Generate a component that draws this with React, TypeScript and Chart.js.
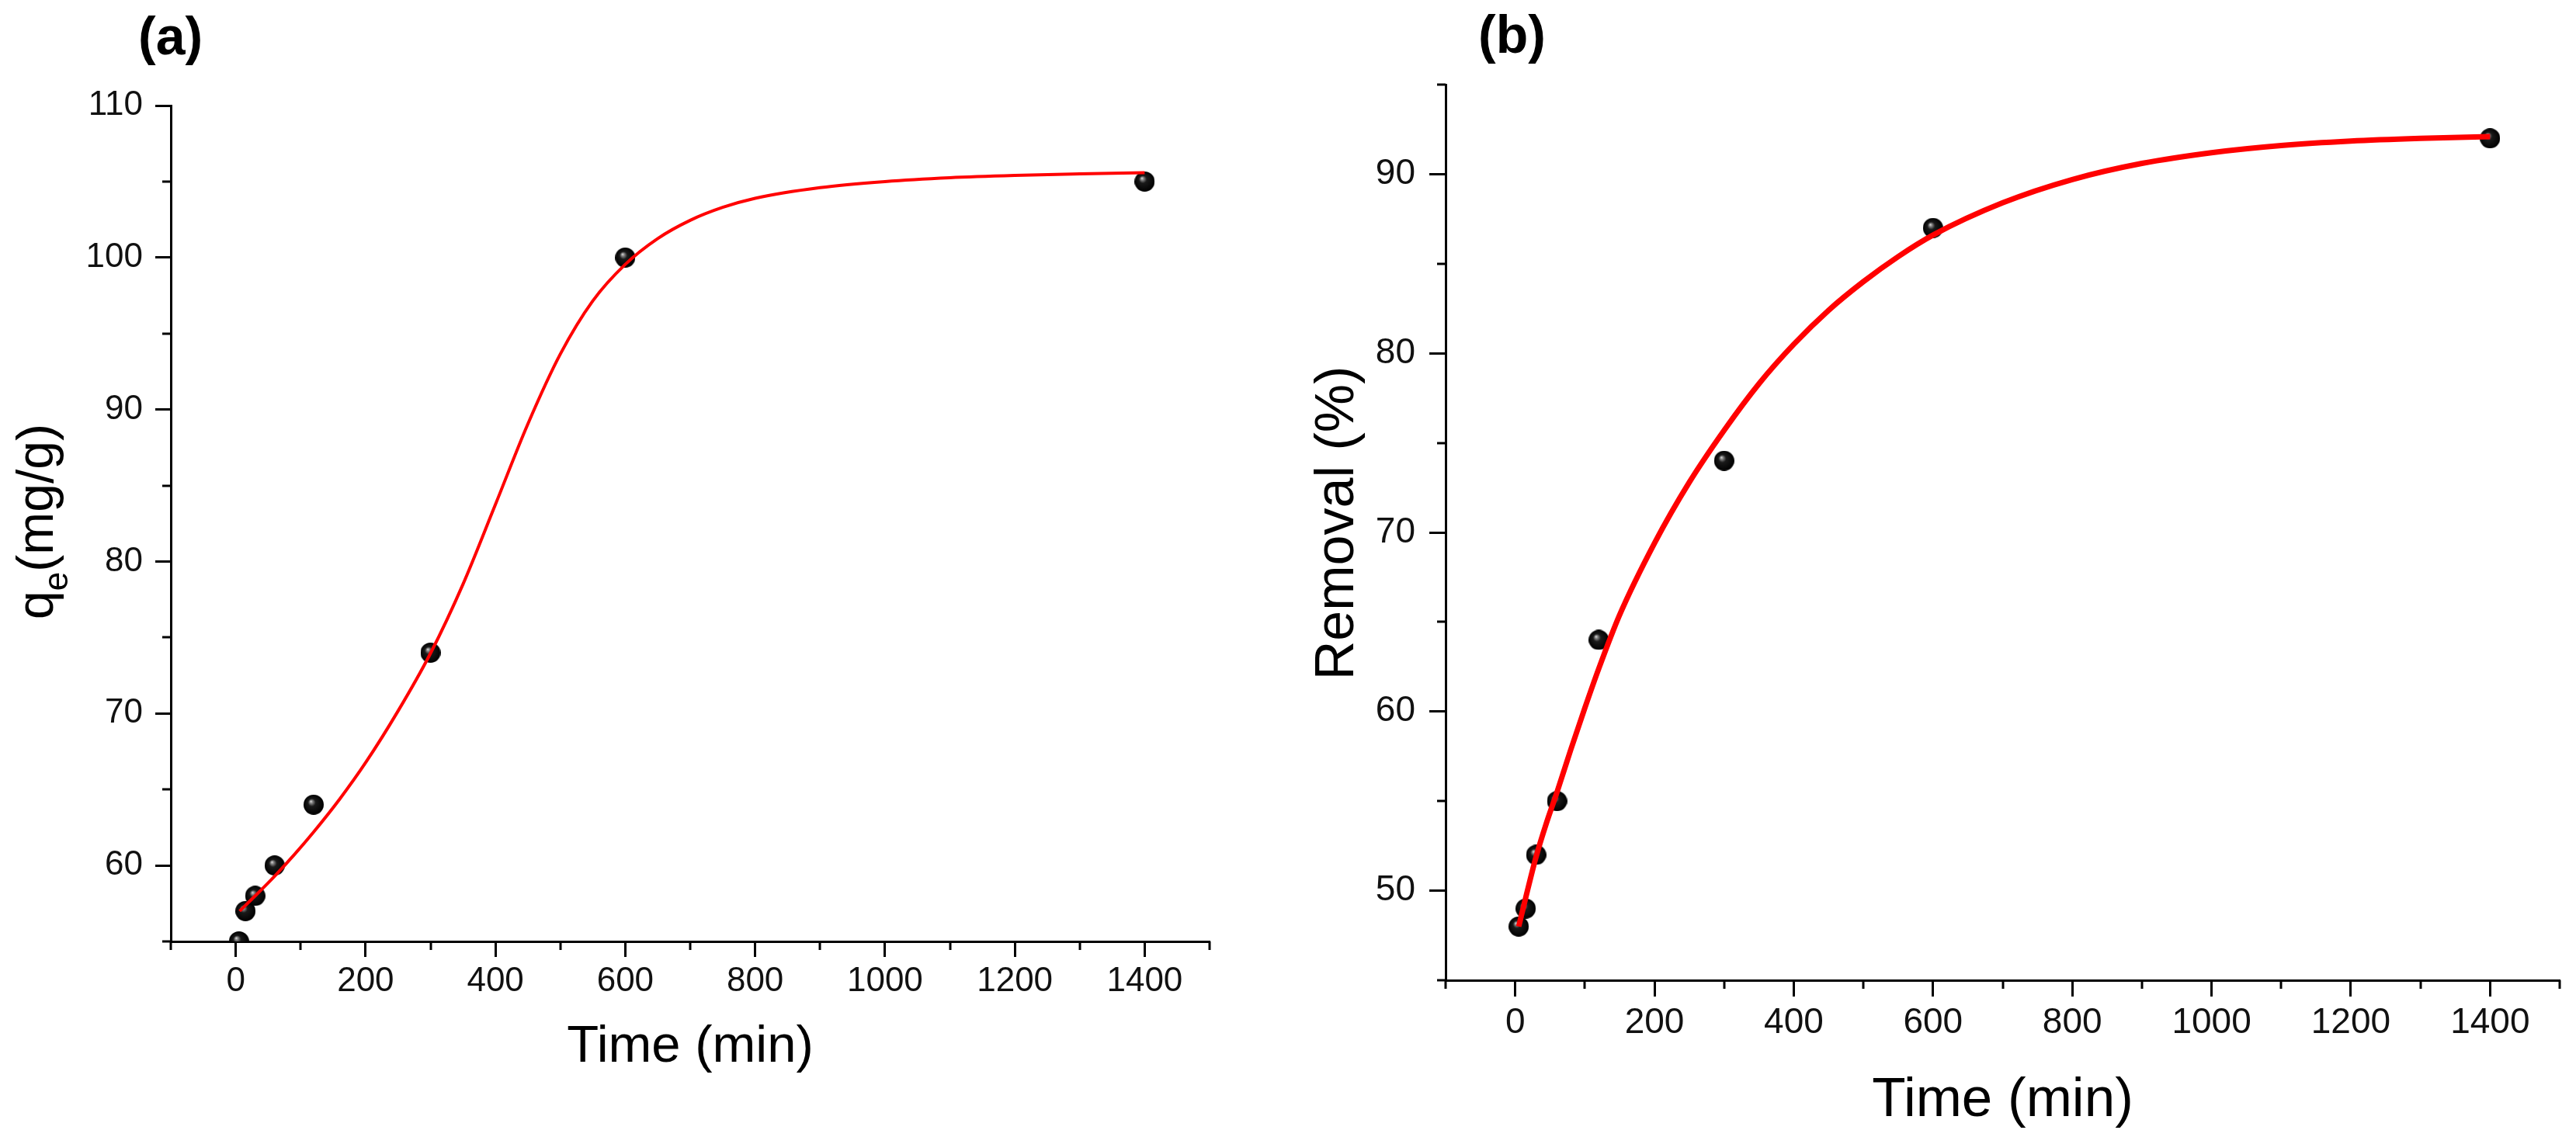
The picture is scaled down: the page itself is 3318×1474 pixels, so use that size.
import React, { useEffect, useRef } from 'react';
import { Chart, registerables } from 'chart.js';

Chart.register(...registerables);

const FONT = '"Liberation Sans", Arial, Helvetica, sans-serif';
Chart.defaults.font.family = FONT;

// ---- data ----
const timeMin = [5, 15, 30, 60, 120, 300, 600, 1400];
const qeMgG = [55, 57, 58, 60, 64, 74, 100, 105];
const removalPct = [48, 49, 52, 55, 64, 74, 87, 92];

// fitted curves
const fitTimeA = [6, 30, 60, 90, 120, 160, 200, 250, 300, 350, 400, 450, 500, 550, 600, 650, 700, 750, 800, 900, 1000, 1100, 1200, 1300, 1400];
const fitQeA = [57.0, 58.0, 59.3, 60.7, 62.2, 64.36, 66.76, 70.16, 73.96, 78.5, 83.75, 89.05, 93.65, 97.15, 99.55, 101.25, 102.45, 103.3, 103.9, 104.6, 105.0, 105.25, 105.4, 105.5, 105.58];

const fitTimeB = [5, 15, 30, 45, 60, 80, 100, 120, 150, 200, 250, 300, 350, 400, 450, 500, 550, 600, 700, 800, 900, 1000, 1100, 1200, 1300, 1400];
const fitRemovalB = [48.0, 49.6, 51.9, 53.8, 55.5, 57.9, 60.2, 62.4, 65.4, 69.4, 72.8, 75.7, 78.3, 80.5, 82.4, 84.0, 85.4, 86.6, 88.4, 89.7, 90.6, 91.2, 91.6, 91.85, 92.0, 92.1];

const xTickLabels = ['0', '200', '400', '600', '800', '1000', '1200', '1400'];
const yTickLabelsA = ['60', '70', '80', '90', '100', '110'];
const yTickLabelsB = ['50', '60', '70', '80', '90'];

function makeSphere(d: number): HTMLCanvasElement {
  const c = document.createElement('canvas');
  c.width = d;
  c.height = d;
  const g = c.getContext('2d')!;
  const r = d / 2;
  const grad = g.createRadialGradient(r * 0.72, r * 0.66, 0, r, r, r);
  grad.addColorStop(0, '#e6e6e6');
  grad.addColorStop(0.14, '#8a8a8a');
  grad.addColorStop(0.38, '#1a1a1a');
  grad.addColorStop(1, '#000');
  g.fillStyle = grad;
  g.beginPath();
  g.arc(r, r, r, 0, Math.PI * 2);
  g.fill();
  return c;
}

type TitlePart = { text: string; size: number; dy: number };

type PanelProps = {
  width: number;
  height: number;
  pointsX: number[];
  pointsY: number[];
  fitX: number[];
  fitY: number[];
  yMin: number;
  yMax: number;
  yLabels: string[];
  padTop: number;
  padRight: number;
  yAxisWidth: number;
  xAxisHeight: number;
  tickFont: number;
  xTickPad: number;
  yTickPad: number;
  majorLen: number;
  minorLen: number;
  lineWidth: number;
  xTitleSize: number;
  xTitlePad: number;
  yTitleParts: TitlePart[];
  yTitleX: number;
  yTitleY: number;
  letter: string;
  letterX: number;
  letterY: number;
  letterSize: number;
};

function PanelChart(p: PanelProps) {
  const ref = useRef<HTMLCanvasElement>(null);
  useEffect(() => {
    const canvas = ref.current!;
    const sphere = makeSphere(26);
    const isMajorX = (v: number) => xTickLabels.includes(String(v));
    const isMajorY = (v: number) => p.yLabels.includes(String(v));

    const deco = {
      id: 'deco',
      afterDraw(chart: any) {
        const ctx = chart.ctx as CanvasRenderingContext2D;
        const area = chart.chartArea;
        const sx = chart.scales.x;
        const sy = chart.scales.y;
        ctx.save();
        ctx.strokeStyle = '#000';
        ctx.lineWidth = 3;
        sx.ticks.forEach((t: any) => {
          if (!isMajorX(t.value)) {
            const px = Math.round(sx.getPixelForValue(t.value));
            ctx.beginPath();
            ctx.moveTo(px, area.bottom);
            ctx.lineTo(px, area.bottom + p.minorLen);
            ctx.stroke();
          }
        });
        sy.ticks.forEach((t: any) => {
          if (!isMajorY(t.value)) {
            const py = Math.round(sy.getPixelForValue(t.value));
            ctx.beginPath();
            ctx.moveTo(area.left, py);
            ctx.lineTo(area.left - p.minorLen, py);
            ctx.stroke();
          }
        });
        // panel letter
        ctx.fillStyle = '#000';
        ctx.textAlign = 'left';
        ctx.textBaseline = 'alphabetic';
        ctx.font = `bold ${p.letterSize}px ${FONT}`;
        ctx.fillText(p.letter, p.letterX, p.letterY);
        // y title (rotated, with optional subscript)
        ctx.translate(p.yTitleX, p.yTitleY);
        ctx.rotate(-Math.PI / 2);
        let total = 0;
        const widths = p.yTitleParts.map((part) => {
          ctx.font = `${part.size}px ${FONT}`;
          const w = ctx.measureText(part.text).width;
          total += w;
          return w;
        });
        let x = -total / 2;
        p.yTitleParts.forEach((part, i) => {
          ctx.font = `${part.size}px ${FONT}`;
          ctx.fillText(part.text, x, part.dy);
          x += widths[i];
        });
        ctx.restore();
      },
    };

    const tickFont = { family: FONT, size: p.tickFont };
    const chart = new Chart(canvas, {
      type: 'scatter',
      data: {
        datasets: [
          {
            label: 'fit',
            data: p.fitX.map((x, i) => ({ x, y: p.fitY[i] })),
            showLine: true,
            borderColor: '#ff0000',
            backgroundColor: '#ff0000',
            borderWidth: p.lineWidth,
            pointRadius: 0,
            cubicInterpolationMode: 'monotone',
            order: 0,
          } as any,
          {
            label: 'data',
            data: p.pointsX.map((x, i) => ({ x, y: p.pointsY[i] })),
            pointStyle: sphere as any,
            pointRadius: 13,
            showLine: false,
            order: 1,
            clip: 0,
          } as any,
        ],
      },
      options: {
        animation: false,
        responsive: false,
        maintainAspectRatio: false,
        layout: { padding: { top: p.padTop, right: p.padRight, bottom: 0, left: 0 } },
        plugins: {
          legend: { display: false },
          tooltip: { enabled: false },
          title: { display: false },
        },
        scales: {
          x: {
            type: 'linear',
            min: -100,
            max: 1500,
            afterFit: (s: any) => {
              s.height = p.xAxisHeight;
            },
            ticks: {
              stepSize: 100,
              autoSkip: false,
              maxRotation: 0,
              minRotation: 0,
              padding: p.xTickPad,
              color: '#111',
              font: tickFont,
              callback: (v: any) => (isMajorX(v) ? String(v) : ''),
            },
            grid: {
              display: true,
              drawOnChartArea: false,
              drawTicks: true,
              tickLength: p.majorLen,
              tickWidth: 3,
              tickColor: (c: any) => (c.tick && isMajorX(c.tick.value) ? '#000' : 'rgba(0,0,0,0)'),
            },
            border: { display: true, color: '#000', width: 3 },
            title: {
              display: true,
              text: 'Time (min)',
              color: '#000',
              font: { family: FONT, size: p.xTitleSize },
              padding: { top: 0, bottom: p.xTitlePad },
            },
          },
          y: {
            type: 'linear',
            min: p.yMin,
            max: p.yMax,
            afterFit: (s: any) => {
              s.width = p.yAxisWidth;
            },
            ticks: {
              stepSize: 5,
              autoSkip: false,
              padding: p.yTickPad,
              color: '#111',
              font: tickFont,
              callback: (v: any) => (isMajorY(v) ? String(v) : ''),
            },
            grid: {
              display: true,
              drawOnChartArea: false,
              drawTicks: true,
              tickLength: p.majorLen,
              tickWidth: 3,
              tickColor: (c: any) => (c.tick && isMajorY(c.tick.value) ? '#000' : 'rgba(0,0,0,0)'),
            },
            border: { display: true, color: '#000', width: 3 },
            title: { display: false },
          },
        },
      } as any,
      plugins: [deco],
    });
    return () => chart.destroy();
  }, []);
  return (
    <canvas
      ref={ref}
      width={p.width}
      height={p.height}
      style={{ display: 'block', width: p.width, height: p.height }}
    />
  );
}

export default function App() {
  return (
    <div
      style={{
        position: 'absolute',
        left: 0,
        top: 0,
        width: 3318,
        height: 1474,
        background: '#fff',
        display: 'flex',
      }}
    >
      <PanelChart
        width={1640}
        height={1474}
        pointsX={timeMin}
        pointsY={qeMgG}
        fitX={fitTimeA}
        fitY={fitQeA}
        yMin={55}
        yMax={110}
        yLabels={yTickLabelsA}
        padTop={136}
        padRight={82}
        yAxisWidth={220}
        xAxisHeight={261}
        tickFont={44}
        xTickPad={5}
        yTickPad={16}
        majorLen={20}
        minorLen={11}
        lineWidth={4}
        xTitleSize={67}
        xTitlePad={84}
        yTitleParts={[
          { text: 'q', size: 66, dy: 0 },
          { text: 'e', size: 44, dy: 19 },
          { text: '(mg/g)', size: 66, dy: 0 },
        ]}
        yTitleX={68}
        yTitleY={672}
        letter="(a)"
        letterX={178}
        letterY={70}
        letterSize={68}
      />
      <PanelChart
        width={1678}
        height={1474}
        pointsX={timeMin}
        pointsY={removalPct}
        fitX={fitTimeB}
        fitY={fitRemovalB}
        yMin={45}
        yMax={95}
        yLabels={yTickLabelsB}
        padTop={109}
        padRight={21}
        yAxisWidth={222}
        xAxisHeight={211}
        tickFont={46}
        xTickPad={7}
        yTickPad={18}
        majorLen={21}
        minorLen={11}
        lineWidth={7}
        xTitleSize={71}
        xTitlePad={13}
        yTitleParts={[{ text: 'Removal (%)', size: 70, dy: 0 }]}
        yTitleX={103}
        yTitleY={674}
        letter="(b)"
        letterX={264}
        letterY={68}
        letterSize={68}
      />
    </div>
  );
}
